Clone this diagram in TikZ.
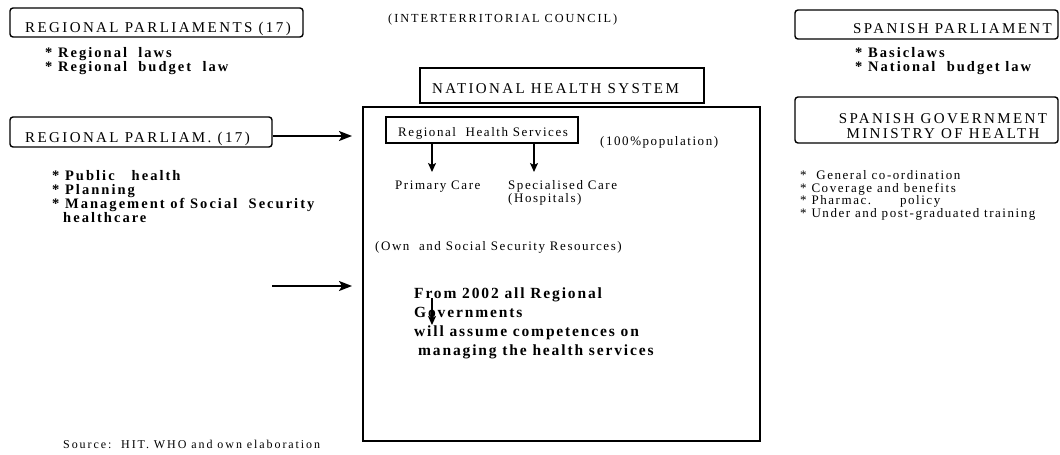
\documentclass[tikz,border=0pt]{standalone}
\usepackage{fontspec}
\setmainfont{Liberation Serif}
\newfontfamily\fwide{Liberation Serif}[LetterSpace=16]
\newfontfamily\fmid{Liberation Serif}[LetterSpace=12]
\newfontfamily\fbold{Liberation Serif}[LetterSpace=14]
\usetikzlibrary{arrows.meta}
\begin{document}
\begin{tikzpicture}[x=1pt,y=-1pt,
  txt/.style={anchor=base west, inner sep=0pt},
  title/.style={txt, font=\fwide\fontsize{15}{15}\selectfont},
  roundbox/.style={draw, line width=1.4pt, rounded corners=3pt},
  sqbox/.style={draw, line width=1.4pt},
  bigarrow/.style={line width=2pt, -{Stealth[length=13pt,width=10pt,inset=3pt]}},
  smallarrow/.style={line width=1.6pt, -{Stealth[length=9pt,width=8pt,inset=2pt]}},
  boldlist/.style={txt, font=\fbold\bfseries\fontsize{14.5}{14}\selectfont},
  plainlist/.style={txt, font=\fmid\fontsize{13}{11}\selectfont},
  small/.style={txt, font=\fmid\fontsize{13}{13}\selectfont},
  boldnote/.style={txt, font=\fmid\bfseries\fontsize{15.5}{15}\selectfont}]
\useasboundingbox (0,0) rectangle (1060,455);

% regional level, top
\node[roundbox, minimum width=293pt, minimum height=29pt, inner sep=0pt] (rp) at (156.5,22.5) {};
\node[title] (rpt) at (25,32) {REGIONAL PARLIAMENTS (17)};
\node[boldlist] (rpl1) at (45,57) {* Regional\ \ laws};
\node[boldlist] (rpl2) at (45,71) {* Regional\ \ budget\ \ law};

\node[txt, font=\fwide\fontsize{12.3}{12}\selectfont] (itc) at (388,22) {(INTERTERRITORIAL COUNCIL)};

% regional level, second row
\node[roundbox, minimum width=262pt, minimum height=30pt, inner sep=0pt] (rp2) at (141,132) {};
\node[title] (rp2t) at (25,142) {REGIONAL PARLIAM. (17)};
\node[boldlist] (pub1) at (52,180) {* Public\ \ \ health};
\node[boldlist] (pub2) at (52,194) {* Planning};
\node[boldlist] (pub3) at (52,208) {* Management of Social\ \ Security};
\node[boldlist] (pub4) at (63,222) {healthcare};

% national health system
\node[sqbox, minimum width=284pt, minimum height=35pt, inner sep=0pt] (nhs) at (562,85.5) {};
\node[title] (nhst) at (432,93) {NATIONAL HEALTH SYSTEM};
\node[sqbox, minimum width=397pt, minimum height=334pt, inner sep=0pt] (sys) at (561.5,274) {};

\node[sqbox, minimum width=192pt, minimum height=26pt, inner sep=0pt] (rhs) at (482,130) {};
\node[small] (rhst) at (398,136) {Regional\ \ Health Services};
\node[small] (pop) at (600,145) {(100\%population)};
\coordinate (pcTop) at (432,172);
\coordinate (scTop) at (534,172);
\draw[smallarrow] (rhs.south -| pcTop) -- (pcTop);
\draw[smallarrow] (rhs.south -| scTop) -- (scTop);
\node[small] (pc) at (395,189) {Primary Care};
\node[small] (sc) at (508,189) {Specialised Care};
\node[small] (hosp) at (508,202) {(Hospitals)};

\node[small] (res) at (375,250) {(Own\ \ and Social Security Resources)};

\node[boldnote] (n1) at (414,298) {From 2002 all Regional};
\node[boldnote] (n2) at (414,317) {Governments};
\node[boldnote] (n3) at (414,336) {will assume competences on};
\node[boldnote] (n4) at (418,355) {managing the health services};
\coordinate (gA) at (432,298);
\coordinate (gB) at (432,325);
\draw[smallarrow] (gA) -- (gB);

% arrows towards the system box
\coordinate (tip1) at (352,136);
\draw[bigarrow] (rp2.east |- tip1) -- (tip1);
\coordinate (tail2) at (272,286);
\coordinate (tip2) at (352,286);
\draw[bigarrow] (tail2) -- (tip2);

% national level
\node[roundbox, minimum width=263pt, minimum height=29pt, inner sep=0pt] (sp) at (926.5,24.5) {};
\node[title] (spt) at (853,33) {SPANISH PARLIAMENT};
\node[boldlist] (spl1) at (855,57) {* Basiclaws};
\node[boldlist] (spl2) at (855,71) {* National\ \ budget law};

\node[roundbox, minimum width=263pt, minimum height=46pt, inner sep=0pt] (gov) at (926.5,120) {};
\node[title, anchor=base] (govt1) at (943,123) {SPANISH GOVERNMENT};
\node[title, anchor=base] (govt2) at (943,138) {MINISTRY OF HEALTH};

\node[plainlist] (g1) at (800,179.5) {*\ \ General co-ordination};
\node[plainlist] (g2) at (800,192) {* Coverage and benefits};
\node[plainlist] (g3) at (800,204.5) {* Pharmac.\ \ \ \ \ \ policy};
\node[plainlist] (g4) at (800,217) {* Under and post-graduated training};

\node[txt, font=\fwide\fontsize{12}{12}\selectfont] (src) at (63,448) {Source:\ \ HIT. WHO and own elaboration};
\end{tikzpicture}
\end{document}
